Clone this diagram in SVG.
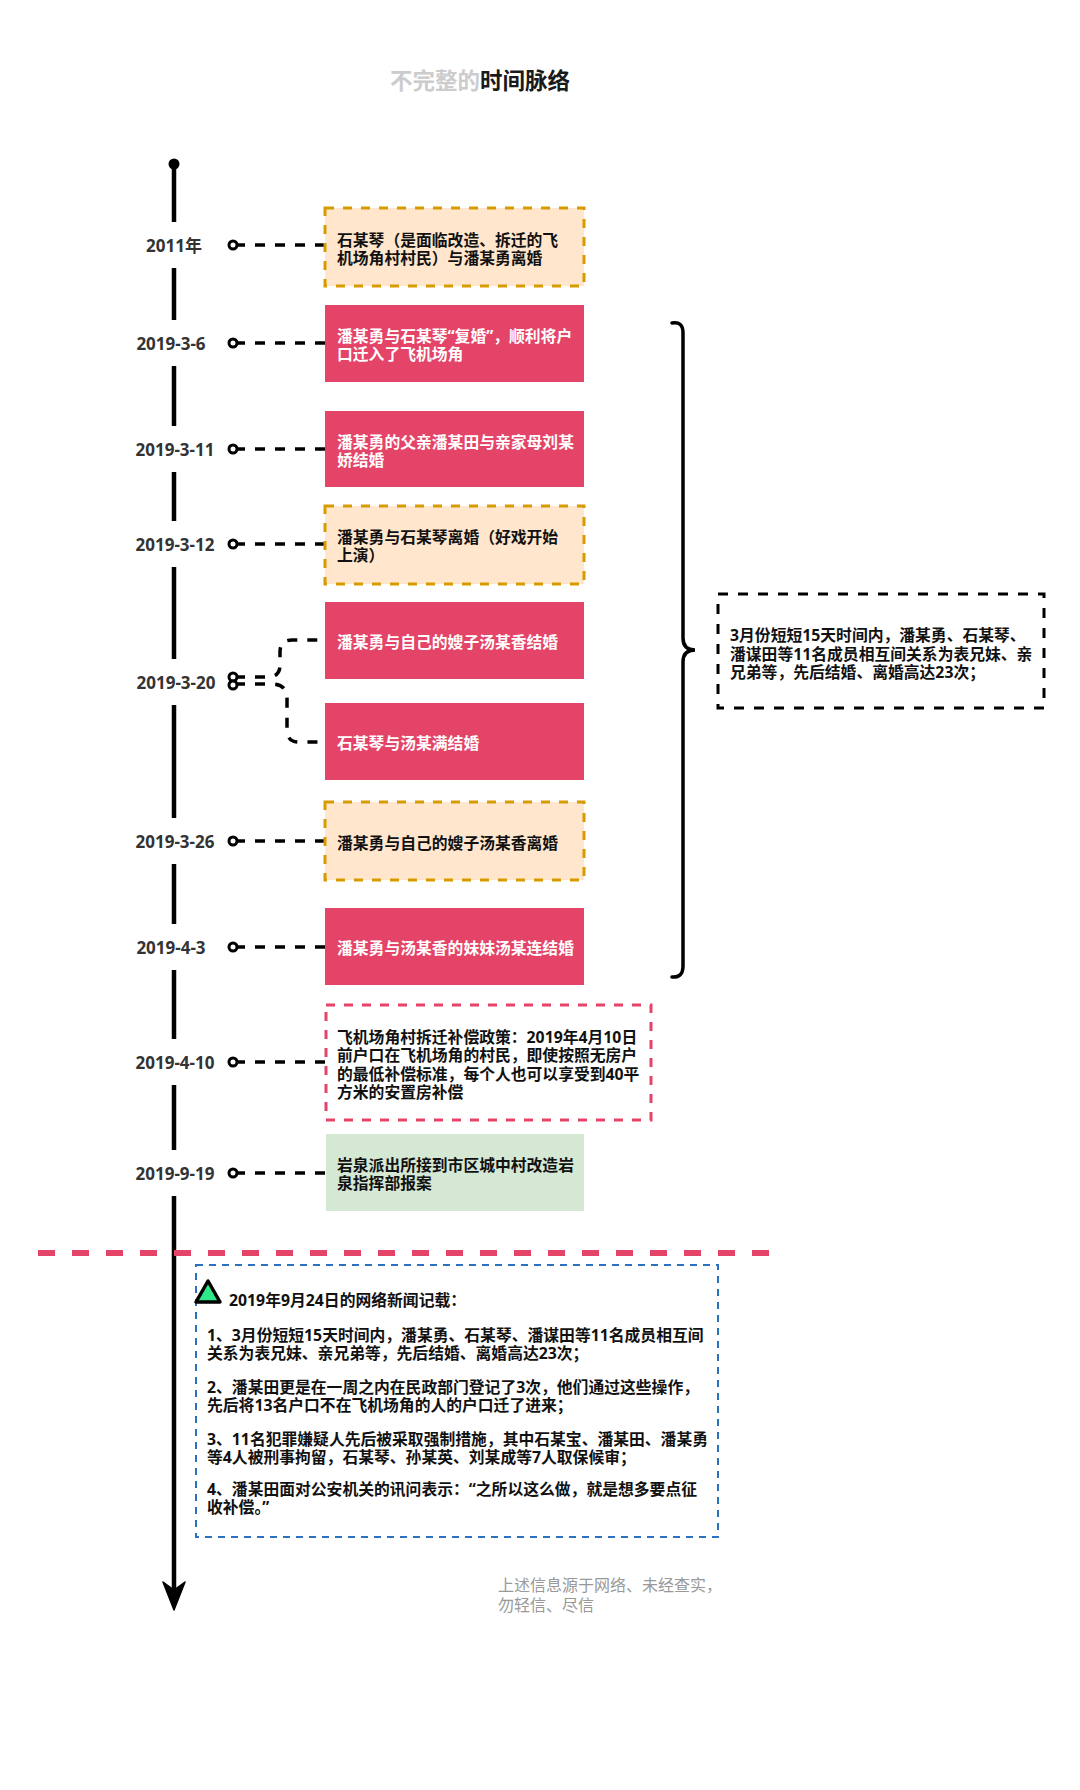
<svg xmlns="http://www.w3.org/2000/svg" width="1080" height="1790" viewBox="0 0 1080 1790">
<style>
  text { font-family: "Noto Sans", "Noto Sans CJK SC", sans-serif; font-weight: bold; dominant-baseline: central; }
  .t { font-size: 15.8px; }
  .w { fill: #ffffff; }
  .k { fill: #111111; }
  .lbl { font-size: 17px; fill: #333333; text-anchor: middle; }
  .pink { fill: #e44467; }
  .orange { fill: #ffe6cc; stroke: #d79b00; stroke-width: 3; stroke-dasharray: 9 9; }
  .conn { fill: none; stroke: #000; stroke-width: 3.5; stroke-dasharray: 10 10; stroke-dashoffset: 2; }
  .dot { fill: #fff; stroke: #000; stroke-width: 3; }
  .bg { fill: #fff; }
</style>
<rect width="1080" height="1790" fill="#ffffff"/>

<g id="title">
  <text x="480" y="80" font-size="22.5" text-anchor="middle"><tspan fill="#cccccc">不完整的</tspan><tspan fill="#1a1a1a">时间脉络</tspan></text>
</g>

<g id="timeline">
  <line x1="174" y1="164" x2="174" y2="1596" stroke="#000" stroke-width="4.5"/>
  <circle cx="174" cy="164" r="5.5" fill="#000"/>
  <path d="M174,1610 L163,1582 L174,1590 L185,1582 Z" fill="#000" stroke="#000" stroke-width="1.5" stroke-linejoin="round"/>
</g>

<g id="labels">
  <rect class="bg" x="130" y="222" width="88" height="46"/>
  <text class="lbl" x="174" y="245">2011年</text>
  <rect class="bg" x="130" y="320" width="88" height="46"/>
  <text class="lbl" x="171" y="343">2019-3-6</text>
  <rect class="bg" x="130" y="426" width="88" height="46"/>
  <text class="lbl" x="175" y="449">2019-3-11</text>
  <rect class="bg" x="130" y="521" width="88" height="46"/>
  <text class="lbl" x="175" y="544">2019-3-12</text>
  <rect class="bg" x="130" y="659" width="90" height="46"/>
  <text class="lbl" x="176" y="682">2019-3-20</text>
  <rect class="bg" x="130" y="818" width="88" height="46"/>
  <text class="lbl" x="175" y="841">2019-3-26</text>
  <rect class="bg" x="130" y="924" width="88" height="46"/>
  <text class="lbl" x="171" y="947">2019-4-3</text>
  <rect class="bg" x="130" y="1039" width="88" height="46"/>
  <text class="lbl" x="175" y="1062">2019-4-10</text>
  <rect class="bg" x="130" y="1150" width="88" height="46"/>
  <text class="lbl" x="175" y="1173">2019-9-19</text>
</g>

<g id="connectors">
  <line class="conn" x1="237" y1="245" x2="325" y2="245"/>
  <line class="conn" x1="237" y1="343" x2="325" y2="343"/>
  <line class="conn" x1="237" y1="449" x2="325" y2="449"/>
  <line class="conn" x1="237" y1="544" x2="325" y2="544"/>
  <path class="conn" d="M237,677 L268,677 Q280,677 280,665 L280,652 Q280,640 292,640 L325,640"/>
  <path class="conn" d="M237,684 L272,684 Q287,684 287,699 L287,730 Q287,742 299,742 L325,742"/>
  <line class="conn" x1="237" y1="841" x2="325" y2="841"/>
  <line class="conn" x1="237" y1="947" x2="325" y2="947"/>
  <line class="conn" x1="237" y1="1062" x2="325" y2="1062"/>
  <line class="conn" x1="237" y1="1173" x2="325" y2="1173"/>
  <circle class="dot" cx="233" cy="245" r="4"/>
  <circle class="dot" cx="233" cy="343" r="4"/>
  <circle class="dot" cx="233" cy="449" r="4"/>
  <circle class="dot" cx="233" cy="544" r="4"/>
  <circle class="dot" cx="233" cy="677" r="4"/>
  <circle class="dot" cx="233" cy="685" r="4"/>
  <circle class="dot" cx="233" cy="841" r="4"/>
  <circle class="dot" cx="233" cy="947" r="4"/>
  <circle class="dot" cx="233" cy="1062" r="4"/>
  <circle class="dot" cx="233" cy="1173" r="4"/>
</g>

<g id="n2011">
  <rect class="orange" x="325" y="208" width="259" height="78"/>
  <text class="t k" x="337" y="240">石某琴（是面临改造、拆迁的飞<tspan x="337" dy="18">机场角村村民）与潘某勇离婚</tspan></text>
</g>
<g id="n2019-3-6">
  <rect class="pink" x="325" y="305" width="259" height="77"/>
  <text class="t w" x="337" y="336">潘某勇与石某琴“复婚”，顺利将户<tspan x="337" dy="18">口迁入了飞机场角</tspan></text>
</g>
<g id="n2019-3-11">
  <rect class="pink" x="325" y="411" width="259" height="76"/>
  <text class="t w" x="337" y="442">潘某勇的父亲潘某田与亲家母刘某<tspan x="337" dy="18">娇结婚</tspan></text>
</g>
<g id="n2019-3-12">
  <rect class="orange" x="325" y="506" width="259" height="78"/>
  <text class="t k" x="337" y="537">潘某勇与石某琴离婚（好戏开始<tspan x="337" dy="18">上演）</tspan></text>
</g>
<g id="n2019-3-20a">
  <rect class="pink" x="325" y="602" width="259" height="77"/>
  <text class="t w" x="337" y="642">潘某勇与自己的嫂子汤某香结婚</text>
</g>
<g id="n2019-3-20b">
  <rect class="pink" x="325" y="703" width="259" height="77"/>
  <text class="t w" x="337" y="743">石某琴与汤某满结婚</text>
</g>
<g id="n2019-3-26">
  <rect class="orange" x="325" y="802" width="259" height="78"/>
  <text class="t k" x="337" y="843">潘某勇与自己的嫂子汤某香离婚</text>
</g>
<g id="n2019-4-3">
  <rect class="pink" x="325" y="908" width="259" height="77"/>
  <text class="t w" x="337" y="948">潘某勇与汤某香的妹妹汤某连结婚</text>
</g>
<g id="n2019-4-10">
  <rect x="326" y="1005" width="325" height="115" fill="#ffffff" stroke="#e44467" stroke-width="3" stroke-dasharray="9 9"/>
  <text class="t k" x="337" y="1037">飞机场角村拆迁补偿政策：2019年4月10日<tspan x="337" dy="18.3">前户口在飞机场角的村民，即使按照无房户</tspan><tspan x="337" dy="18.3">的最低补偿标准，每个人也可以享受到40平</tspan><tspan x="337" dy="18.3">方米的安置房补偿</tspan></text>
</g>
<g id="n2019-9-19">
  <rect x="326" y="1134" width="258" height="77" fill="#d5e8d4"/>
  <text class="t k" x="337" y="1165">岩泉派出所接到市区城中村改造岩<tspan x="337" dy="18">泉指挥部报案</tspan></text>
</g>

<g id="bracket">
  <path d="M672,323 Q683,321 683,333 L683,638 Q683,650 695,650 Q683,650 683,662 L683,966 Q683,978 672,977" fill="none" stroke="#000" stroke-width="3.5" stroke-linecap="round"/>
</g>
<g id="summary">
  <rect x="718" y="594" width="326" height="114" fill="#ffffff" stroke="#000" stroke-width="3" stroke-dasharray="10 10"/>
  <text class="t k" x="730" y="635">3月份短短15天时间内，潘某勇、石某琴、<tspan x="730" dy="18.5">潘谋田等11名成员相互间关系为表兄妹、亲</tspan><tspan x="730" dy="18.5">兄弟等，先后结婚、离婚高达23次；</tspan></text>
</g>

<g id="divider">
  <line x1="38" y1="1253" x2="770" y2="1253" stroke="#e44467" stroke-width="6" stroke-dasharray="17 17"/>
</g>

<g id="news">
  <rect x="196" y="1265" width="522" height="272" fill="#ffffff" stroke="#2b71c0" stroke-width="2" stroke-dasharray="7 6"/>
  <polygon points="208,1281 196,1302 220,1302" fill="#2ee88a" stroke="#000" stroke-width="3.5" stroke-linejoin="round"/>
  <text class="t k" x="229" y="1300">2019年9月24日的网络新闻记载：</text>
  <text class="t k" x="207" y="1335">1、3月份短短15天时间内，潘某勇、石某琴、潘谋田等11名成员相互间<tspan x="207" dy="17.5">关系为表兄妹、亲兄弟等，先后结婚、离婚高达23次；</tspan></text>
  <text class="t k" x="207" y="1387">2、潘某田更是在一周之内在民政部门登记了3次，他们通过这些操作，<tspan x="207" dy="17.5">先后将13名户口不在飞机场角的人的户口迁了进来；</tspan></text>
  <text class="t k" x="207" y="1439">3、11名犯罪嫌疑人先后被采取强制措施，其中石某宝、潘某田、潘某勇<tspan x="207" dy="17.5">等4人被刑事拘留，石某琴、孙某英、刘某成等7人取保候审；</tspan></text>
  <text class="t k" x="207" y="1489">4、潘某田面对公安机关的讯问表示：“之所以这么做，就是想多要点征<tspan x="207" dy="17.5">收补偿。”</tspan></text>
</g>

<g id="footer">
  <text x="498" y="1585" font-size="16" fill="#999999" style="font-weight:normal">上述信息源于网络、未经查实，<tspan x="498" dy="20">勿轻信、尽信</tspan></text>
</g>
</svg>
